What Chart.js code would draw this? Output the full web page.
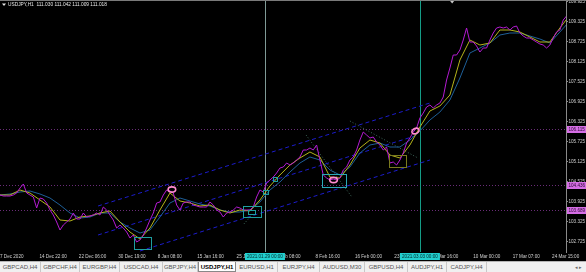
<!DOCTYPE html>
<html>
<head>
<meta charset="utf-8">
<script src="https://cdn.jsdelivr.net/npm/chart.js@4.4.1/dist/chart.umd.min.js"></script>
<style>
    html, body { margin: 0; padding: 0; background: #000; overflow: hidden; }
    #wrap { position: relative; width: 586px; height: 272px; }
    canvas { display: block; }
    #tabs { position: absolute; left: 0; top: 261px; width: 586px; height: 11px; background: #f0f0f0;
            border-top: 1px solid #b4b4b4; box-sizing: border-box; display: flex;
            font: 6px "Liberation Sans", Arial, sans-serif; color: #555; white-space: nowrap; }
    #tabs span { display: block; height: 10px; line-height: 10px; text-align: center; border-right: 1px solid #c8c8c8; box-sizing: border-box; }
    #tabs span.on { background: #fff; color: #000; font-weight: bold; border: 1px solid #888; border-top: none; }
    #tabs .arr { position: absolute; right: 4px; top: 0; line-height: 10px; color: #666; font-size: 5px; }
</style>
</head>
<body>
<div id="wrap">
    <canvas id="chart" width="586" height="261"></canvas>
    <div id="tabs"></div>
</div>
<script>
    // USDJPY H1, one price sample every 12 bars
    const price = [
        104.126,104.096,104.096,104.096,104.126,104.186,104.336,104.456,104.186,104.126,
        104.066,103.736,104.036,104.006,103.886,103.676,103.526,103.316,103.076,103.226,
        103.316,103.406,103.586,103.406,103.406,103.586,103.466,103.496,103.526,103.586,
        103.526,103.766,103.676,103.526,103.376,103.136,103.226,103.136,103.016,102.836,
        102.926,102.716,102.776,102.926,103.136,103.376,103.586,103.886,103.916,104.126,
        104.276,104.246,104.186,103.826,103.676,103.886,103.916,103.916,103.826,103.796,
        103.766,103.766,103.766,103.916,103.826,103.676,103.616,103.466,103.586,103.616,
        103.676,103.766,103.736,103.676,103.676,103.676,103.766,104.066,104.276,104.216,
        104.486,104.576,104.666,104.786,104.936,104.966,105.086,105.026,105.086,105.176,
        105.266,105.476,105.476,105.536,105.476,105.626,105.176,104.726,104.636,104.576,
        104.606,104.576,104.636,104.876,104.966,105.176,105.266,105.476,105.776,106.016,
        105.926,105.836,105.866,105.716,105.626,105.476,105.566,105.086,105.116,105.026,
        105.176,105.386,105.686,105.836,106.016,106.136,106.436,106.586,106.766,106.826,
        106.736,106.826,106.886,107.066,107.576,107.936,108.326,108.326,108.476,108.776,
        109.136,108.716,108.716,108.596,108.416,108.536,108.536,108.776,108.986,109.136,
        109.166,109.136,109.166,109.076,109.166,109.196,108.986,108.896,108.836,108.836,
        108.776,108.716,108.656,108.626,108.536,108.626,108.836,109.016,109.076,109.376,
        109.496
    ];
    // moving averages, one sample every 36 bars
    const fastMA = [
        104.126,104.126,104.276,104.186,103.976,103.766,103.376,103.346,103.466,103.496,
        103.586,103.646,103.316,103.016,102.806,103.136,103.676,104.186,103.946,103.886,
        103.796,103.826,103.676,103.586,103.676,103.646,103.976,104.396,104.726,105.026,
        105.236,105.416,105.266,104.666,104.636,105.026,105.536,105.776,105.686,105.326,
        105.236,105.626,106.166,106.646,106.796,107.126,108.176,108.776,108.626,108.686,
        109.076,109.076,109.016,108.866,108.716,108.716,109.136,109.526
    ];
    const slowMA = [
        104.126,104.156,104.216,104.246,104.156,104.036,103.826,103.586,103.436,103.466,
        103.586,103.586,103.316,103.136,102.986,103.076,103.466,103.886,104.036,103.946,
        103.856,103.796,103.676,103.616,103.616,103.676,103.916,104.276,104.516,104.816,
        105.086,105.266,105.176,104.876,104.726,104.966,105.386,105.626,105.686,105.566,
        105.566,105.776,106.046,106.376,106.616,106.976,107.636,108.386,108.536,108.686,
        108.926,108.986,108.986,108.896,108.806,108.686,109.016,109.346
    ];
    const timeLabels = ['7 Dec 2020','14 Dec 22:00','22 Dec 06:00','30 Dec 19:00','8 Jan 08:00','15 Jan 16:00',
        '25 Jan 00:00','1 Feb 08:00','8 Feb 16:00','16 Feb 00:00','23 Feb 08:00','3 Mar 16:00',
        '10 Mar 00:00','17 Mar 07:00','24 Mar 15:00'];
    const priceTicks = [102.725,103.325,103.925,104.525,105.125,105.725,106.325,106.925,107.525,108.125,108.725,109.325,109.925];
    const levels = [106.115, 104.436, 103.689];
    const markerBars = [954, 1512];
    const markerLabels = ['2021.01.29 00:00', '2021.03.03 00:00'];
    const tabNames = ['GBPCAD,H4','GBPCHF,H4','EURGBP,H4','USDCAD,H4','GBPJPY,H4','USDJPY,H1','EURUSD,H1','EURJPY,H4','AUDUSD,M30','GBPUSD,H4','AUDJPY,H1','CADJPY,H4'];

    // chart objects, in bar / price coordinates
    const channel = [
        [353, 103.796, 1548, 106.886],
        [353, 102.926, 1494, 105.896],
        [504, 102.446, 1548, 105.176]
    ];
    const trendLines = [
        [1102, 105.926, 1267, 104.066],
        [1260, 106.346, 1505, 105.236],
        [878, 103.256, 904, 103.496]
    ];
    const boxes = [
        [482, 102.866, 544, 102.506, '#1e9ea0'],
        [875, 103.796, 940, 103.466, '#1e9ea0'],
        [893, 103.676, 918, 103.556, '#1e9ea0'],
        [947, 104.276, 965, 104.156, '#1e9ea0'],
        [983, 104.666, 997, 104.546, '#1e9ea0'],
        [1159, 104.756, 1246, 104.366, '#2aa8b8'],
        [1400, 105.326, 1462, 104.966, '#7a7a1e']
    ];
    const rings = [[619, 104.291, 0], [1201, 104.576, 0], [1496, 106.046, -0.5]];

    const font = 'Liberation Sans';
    const barsPerPrice = 12, barsPerMA = 36, barsPerLabel = 142;

    const overlay = {
        id: 'overlay',
        beforeDatasetsDraw(chart) {
            const { ctx, chartArea: a, scales: { x, y } } = chart;
            ctx.save();
            ctx.beginPath(); ctx.rect(a.left, a.top, a.right - a.left, a.bottom - a.top); ctx.clip();
            ctx.lineWidth = 1;
            ctx.strokeStyle = '#6a2c78'; ctx.setLineDash([1, 2]);
            levels.forEach(v => {
                const yy = Math.round(y.getPixelForValue(v)) + 0.5;
                ctx.beginPath(); ctx.moveTo(a.left, yy); ctx.lineTo(a.right, yy); ctx.stroke();
            });
            ctx.setLineDash([]);
            ['#7f9a96', '#159c86'].forEach((c, i) => {
                const xx = Math.round(x.getPixelForValue(markerBars[i])) + 0.5;
                ctx.strokeStyle = c;
                ctx.beginPath(); ctx.moveTo(xx, a.top); ctx.lineTo(xx, a.bottom); ctx.stroke();
            });
            ctx.strokeStyle = '#1c1ccc'; ctx.setLineDash([4, 3]);
            channel.forEach(l => {
                ctx.beginPath(); ctx.moveTo(x.getPixelForValue(l[0]), y.getPixelForValue(l[1]));
                ctx.lineTo(x.getPixelForValue(l[2]), y.getPixelForValue(l[3])); ctx.stroke();
            });
            ctx.strokeStyle = '#3f6a5c'; ctx.setLineDash([1, 2]);
            trendLines.forEach(l => {
                ctx.beginPath(); ctx.moveTo(x.getPixelForValue(l[0]), y.getPixelForValue(l[1]));
                ctx.lineTo(x.getPixelForValue(l[2]), y.getPixelForValue(l[3])); ctx.stroke();
            });
            ctx.restore();
        },
        afterDatasetsDraw(chart) {
            const { ctx, chartArea: a, scales: { x, y } } = chart;
            ctx.save();
            ctx.beginPath(); ctx.rect(a.left, a.top, a.right - a.left, a.bottom - a.top); ctx.clip();
            ctx.lineWidth = 1;
            boxes.forEach(b => {
                const x0 = Math.round(x.getPixelForValue(b[0])) + 0.5, x1 = Math.round(x.getPixelForValue(b[2])) + 0.5;
                const y0 = Math.round(y.getPixelForValue(b[1])) + 0.5, y1 = Math.round(y.getPixelForValue(b[3])) + 0.5;
                ctx.strokeStyle = b[4];
                ctx.strokeRect(x0, y0, x1 - x0, y1 - y0);
            });
            ctx.strokeStyle = '#ff8ccf'; ctx.lineWidth = 1.6;
            rings.forEach(r => {
                ctx.beginPath();
                ctx.ellipse(x.getPixelForValue(r[0]), y.getPixelForValue(r[1]), 3.8, 2.6, r[2], 0, Math.PI * 2);
                ctx.stroke();
            });
            ctx.restore();
        },
        afterDraw(chart) {
            const { ctx, chartArea: a, scales: { x, y } } = chart;
            ctx.save();
            // top frame
            ctx.fillStyle = '#7a7a7a'; ctx.fillRect(0, 0, chart.width, 1);
            // shift marker
            const sx = x.getPixelForValue(1628);
            ctx.fillStyle = '#c8c8c8';
            ctx.beginPath(); ctx.moveTo(sx - 2, 1); ctx.lineTo(sx + 2, 1); ctx.lineTo(sx, 3.5); ctx.fill();
            // title
            ctx.font = '4.8px ' + font; ctx.textBaseline = 'middle'; ctx.fillStyle = '#e6e6e6';
            ctx.fillText('USDJPY,H1  111.030 111.042 111.009 111.018', 8, 5);
            ctx.beginPath(); ctx.moveTo(2, 3.5); ctx.lineTo(6, 3.5); ctx.lineTo(4, 6); ctx.fill();
            // price labels of the levels
            ctx.font = '4.6px ' + font;
            levels.forEach(v => {
                const yy = Math.round(y.getPixelForValue(v));
                ctx.fillStyle = '#d66ee6'; ctx.fillRect(a.right + 1, yy - 3, 19, 7);
                ctx.fillStyle = '#2a0a30'; ctx.textAlign = 'left';
                ctx.fillText(v.toFixed(3), a.right + 2.5, yy + 0.5);
            });
            // time labels of the vertical lines
            markerBars.forEach((b, i) => {
                const xx = x.getPixelForValue(b);
                ctx.fillStyle = '#22cfcf'; ctx.fillRect(xx - 20, a.bottom + 1, 40, 7);
                ctx.fillStyle = '#002a2a'; ctx.textAlign = 'center';
                ctx.fillText(markerLabels[i], xx, a.bottom + 4.5);
            });
            ctx.restore();
        }
    };

    new Chart(document.getElementById('chart'), {
        type: 'line',
        data: {
            datasets: [
                { data: price.map((v, i) => ({ x: i * barsPerPrice, y: v })), borderColor: '#b41ad2' },
                { data: fastMA.map((v, i) => ({ x: i * barsPerMA, y: v })), borderColor: '#b4b41a' },
                { data: slowMA.map((v, i) => ({ x: i * barsPerMA, y: v })), borderColor: '#1e5f98' }
            ]
        },
        options: {
            responsive: false,
            animation: false,
            devicePixelRatio: 1,
            layout: { padding: 0 },
            elements: { point: { radius: 0 }, line: { borderWidth: 1, tension: 0 } },
            plugins: { legend: { display: false }, tooltip: { enabled: false } },
            scales: {
                x: {
                    type: 'linear', min: 0, max: 2038,
                    grid: { display: false, drawTicks: false, tickLength: 0 }, border: { display: false },
                    afterBuildTicks: s => { s.ticks = timeLabels.map((t, i) => ({ value: i * barsPerLabel })); },
                    afterFit: s => { s.height = 9; s.paddingLeft = 0; s.paddingRight = 0; },
                    ticks: {
                        autoSkip: false, maxRotation: 0, align: 'start', padding: 1.5,
                        color: '#d0d0d0', font: { family: font, size: 4.6 },
                        callback: (v, i) => timeLabels[i]
                    }
                },
                y: {
                    type: 'linear', position: 'right', min: 102.416, max: 109.976,
                    grid: { drawOnChartArea: false, drawTicks: true, tickLength: 2, color: '#8a8a8a' },
                    border: { display: true, color: '#8a8a8a' },
                    afterBuildTicks: s => { s.ticks = priceTicks.map(v => ({ value: v })); },
                    afterFit: s => { s.width = 20; s.paddingTop = 0; s.paddingBottom = 0; },
                    ticks: {
                        padding: 0.5, color: '#d0d0d0', font: { family: font, size: 4.6 },
                        callback: v => v.toFixed(3)
                    }
                }
            }
        },
        plugins: [overlay]
    });

    const tabWidths = [41, 39, 40, 43, 35, 38, 42, 42, 45, 43, 39, 40];
    const tabs = document.getElementById('tabs');
    tabNames.forEach((n, i) => {
        const s = document.createElement('span');
        s.textContent = n;
        s.style.width = tabWidths[i] + 'px';
        if (n === 'USDJPY,H1') s.className = 'on';
        tabs.appendChild(s);
    });
    const arr = document.createElement('div');
    arr.className = 'arr'; arr.textContent = '◂ ▸';
    tabs.appendChild(arr);
</script>
</body>
</html>
